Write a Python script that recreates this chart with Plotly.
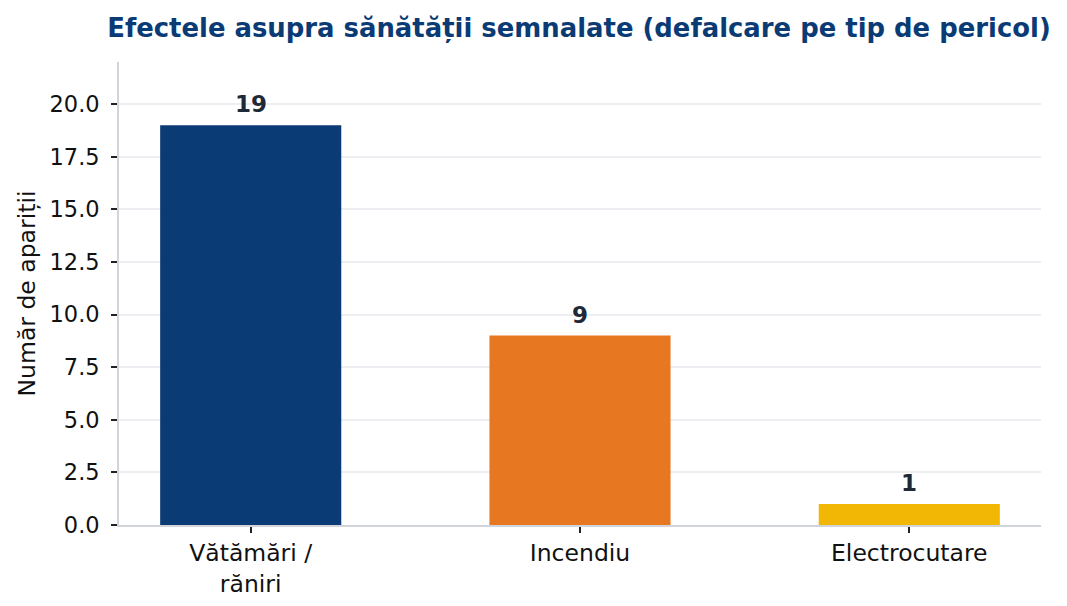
import plotly.graph_objects as go

categories = ["Vătămări /<br>răniri", "Incendiu", "Electrocutare"]
values = [19, 9, 1]
colors = ["#0B3B75", "#E87722", "#F2B705"]
title_text = "Efectele asupra sănătății semnalate (defalcare pe tip de pericol)"
y_title = "Număr de apariții"

font_family = "DejaVu Sans"

# the page adds an 8px body margin; size the figure so the plot area lands where the reference has it
W, H = 1051, 590

fig = go.Figure()
fig.add_trace(go.Bar(
    x=categories, y=values, marker=dict(color=colors, line=dict(width=0)),
    width=0.55, hoverinfo="skip",
))

for c, v in zip(categories, values):
    fig.add_annotation(x=c, y=v, text=f"<b>{v}</b>", showarrow=False,
                       yanchor="bottom", yshift=6,
                       font=dict(family=font_family, size=23, color="#1F2937"))

fig.update_layout(
    width=W, height=H,
    margin=dict(l=111, r=18, t=54, b=73, autoexpand=False),
    paper_bgcolor="white", plot_bgcolor="white",
    showlegend=False,
    font=dict(family=font_family, size=22, color="#111111"),
    title=dict(text=f"<b>{title_text}</b>", xref="container", x=571 / W, xanchor="center",
               yref="container", y=1 - 20 / H, yanchor="middle",
               font=dict(family=font_family, size=25.9, color="#0B3B75")),
)
fig.update_xaxes(
    range=[-0.4, 2.4], showgrid=False, showline=True, linecolor="#D1D5DB", linewidth=1.5,
    ticks="outside", ticklen=6, tickcolor="#222222", tickwidth=1.5, automargin=False,
    tickfont=dict(family=font_family, size=23.5, color="#111111"), zeroline=False,
)
fig.update_yaxes(
    range=[0, 22], dtick=2.5, tick0=0, tickformat=".1f", ticksuffix=" ",
    showgrid=True, gridcolor="#ECEEF1", gridwidth=1.5,
    showline=True, linecolor="#D1D5DB", linewidth=1.5, automargin=False,
    ticks="outside", ticklen=6, tickcolor="#222222", tickwidth=1.5,
    tickfont=dict(family=font_family, size=22.5, color="#111111"), zeroline=False,
    title=dict(text=y_title, font=dict(family=font_family, size=23.5, color="#111111"), standoff=7),
)

fig.write_html("out.html")
